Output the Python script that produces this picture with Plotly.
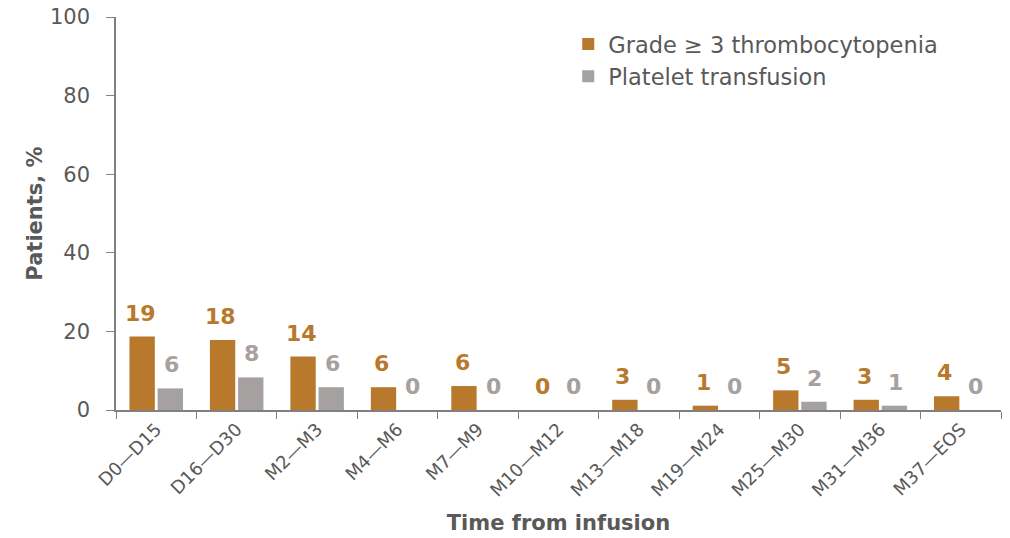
import plotly.graph_objects as go

categories = ["D0\u2014D15", "D16\u2014D30", "M2\u2014M3", "M4\u2014M6", "M7\u2014M9", "M10\u2014M12",
              "M13\u2014M18", "M19\u2014M24", "M25\u2014M30", "M31\u2014M36", "M37\u2014EOS"]
thrombo = [18.7, 17.8, 13.6, 5.8, 6.1, 0, 2.6, 1.1, 5.0, 2.6, 3.5]
thrombo_labels = ["19", "18", "14", "6", "6", "0", "3", "1", "5", "3", "4"]
transf = [5.5, 8.3, 5.8, 0, 0, 0, 0, 0, 2.1, 1.1, 0]
transf_labels = ["6", "8", "6", "0", "0", "0", "0", "0", "2", "1", "0"]

ORANGE = "#B8792C"
GRAY = "#A6A1A1"
TXT = "#595959"
AX = "#808080"
FONT = "DejaVu Sans"

fig = go.Figure()
fig.add_trace(go.Bar(x=categories, y=thrombo, name="Grade \u2265 3 thrombocytopenia",
                     marker=dict(color=ORANGE, line=dict(width=0))))
fig.add_trace(go.Bar(x=categories, y=transf, name="Platelet transfusion",
                     marker=dict(color=GRAY, line=dict(width=0))))

for cat, v, lab in zip(categories, thrombo, thrombo_labels):
    fig.add_annotation(x=cat, y=v, text=lab, showarrow=False, xref="x", yref="y",
                       yanchor="bottom", yshift=9, xshift=-16,
                       font=dict(family=FONT, size=22, color=ORANGE, weight="bold"))
for cat, v, lab in zip(categories, transf, transf_labels):
    fig.add_annotation(x=cat, y=v, text=lab, showarrow=False, xref="x", yref="y",
                       yanchor="bottom", yshift=9, xshift=15,
                       font=dict(family=FONT, size=22, color=GRAY, weight="bold"))

fig.update_layout(
    width=1002, height=530,
    margin=dict(l=108, r=9, t=9, b=128, autoexpand=False),
    paper_bgcolor="white", plot_bgcolor="white",
    barmode="group", bargap=0.3, bargroupgap=0.1,
    font=dict(family=FONT, color=TXT, size=20),
    showlegend=True,
    legend=dict(x=0.511, y=0.985, xanchor="left", yanchor="top",
                font=dict(family=FONT, size=22.5, color=TXT),
                itemwidth=30, tracegroupgap=2, bgcolor="rgba(0,0,0,0)"),
    xaxis=dict(
        title=dict(text="Time from infusion", font=dict(family=FONT, size=21, color=TXT, weight="bold"), standoff=16),
        tickangle=-45, tickson="boundaries", ticks="outside", ticklen=7, tickcolor=AX,
        showline=True, linecolor=AX, linewidth=1.5, showgrid=False, automargin=False,
        tickfont=dict(family=FONT, size=18, color=TXT),
    ),
    yaxis=dict(
        title=dict(text="Patients, %", font=dict(family=FONT, size=21, color=TXT, weight="bold"), standoff=2),
        range=[0, 100], tickvals=[0, 20, 40, 60, 80, 100], ticks="outside", ticklen=8, tickcolor=AX,
        showline=True, linecolor=AX, linewidth=1.5, showgrid=False, zeroline=False, automargin=False,
        tickfont=dict(family=FONT, size=21, color=TXT), ticklabelstandoff=12,
        ticklabeloverflow="allow",
    ),
)

fig.write_html("out.html")
